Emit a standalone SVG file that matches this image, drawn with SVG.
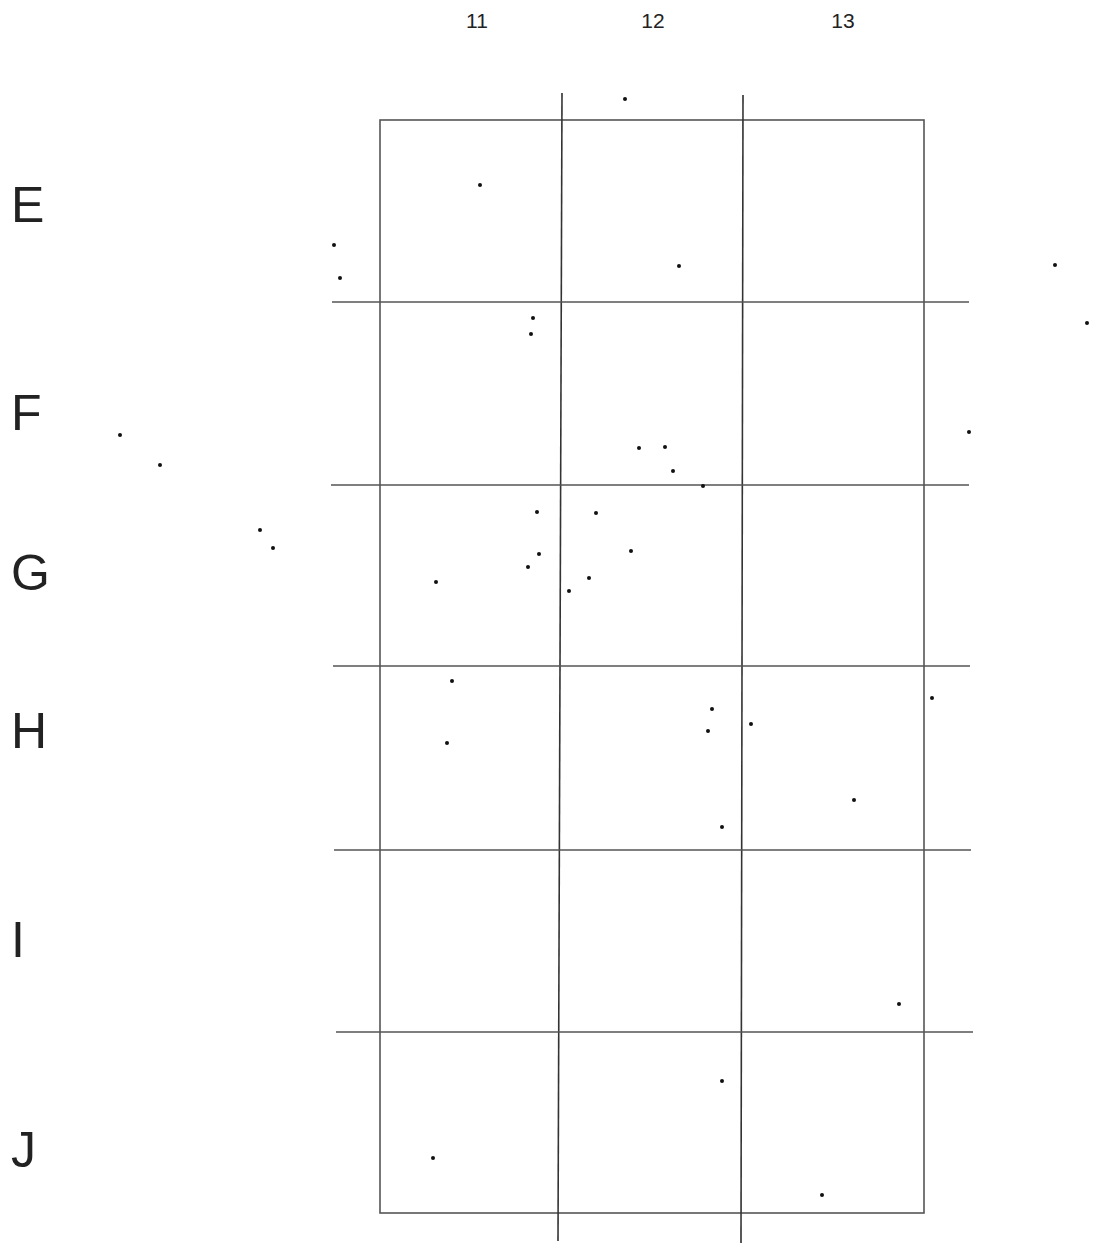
<svg xmlns="http://www.w3.org/2000/svg" width="1110" height="1249" viewBox="0 0 1110 1249">
<style>
.ln{stroke:#555;stroke-width:1.6;fill:none}
.vl{stroke:#333;stroke-width:1.6;fill:none}
.lbl{font-family:"Liberation Sans",Arial,sans-serif;fill:#222}
.big{font-size:50px}
.sm{font-size:21px}
.d{fill:#111}
</style>
<rect width="1110" height="1249" fill="#fff"/>
<g id="grid">
<rect class="ln" x="380" y="120" width="544" height="1093"/>
<line class="vl" x1="562" y1="93" x2="558" y2="1241"/>
<line class="vl" x1="743" y1="95" x2="741" y2="1243"/>
<line class="ln" x1="332" y1="302" x2="969" y2="302"/>
<line class="ln" x1="331" y1="485" x2="969" y2="485"/>
<line class="ln" x1="333" y1="666" x2="970" y2="666"/>
<line class="ln" x1="334" y1="850" x2="971" y2="850"/>
<line class="ln" x1="336" y1="1032" x2="973" y2="1032"/>
</g>
<g id="labels">
<text class="lbl sm" x="477" y="28" text-anchor="middle">11</text>
<text class="lbl sm" x="653" y="28" text-anchor="middle">12</text>
<text class="lbl sm" x="843" y="28" text-anchor="middle">13</text>
<text class="lbl big" x="11" y="222">E</text>
<text class="lbl big" x="11" y="430">F</text>
<text class="lbl big" x="11" y="590">G</text>
<text class="lbl big" x="11" y="748">H</text>
<text class="lbl big" x="11" y="957">I</text>
<text class="lbl big" x="11" y="1167">J</text>
</g>
<g id="dots" class="d">
<circle cx="625" cy="99" r="2"/>
<circle cx="480" cy="185" r="2"/>
<circle cx="334" cy="245" r="2"/>
<circle cx="340" cy="278" r="2"/>
<circle cx="679" cy="266" r="2"/>
<circle cx="1055" cy="265" r="2"/>
<circle cx="1087" cy="323" r="2"/>
<circle cx="533" cy="318" r="2"/>
<circle cx="531" cy="334" r="2"/>
<circle cx="120" cy="435" r="2"/>
<circle cx="160" cy="465" r="2"/>
<circle cx="969" cy="432" r="2"/>
<circle cx="639" cy="448" r="2"/>
<circle cx="665" cy="447" r="2"/>
<circle cx="673" cy="471" r="2"/>
<circle cx="703" cy="486" r="2"/>
<circle cx="537" cy="512" r="2"/>
<circle cx="596" cy="513" r="2"/>
<circle cx="260" cy="530" r="2"/>
<circle cx="273" cy="548" r="2"/>
<circle cx="539" cy="554" r="2"/>
<circle cx="631" cy="551" r="2"/>
<circle cx="528" cy="567" r="2"/>
<circle cx="589" cy="578" r="2"/>
<circle cx="569" cy="591" r="2"/>
<circle cx="436" cy="582" r="2"/>
<circle cx="452" cy="681" r="2"/>
<circle cx="932" cy="698" r="2"/>
<circle cx="712" cy="709" r="2"/>
<circle cx="708" cy="731" r="2"/>
<circle cx="751" cy="724" r="2"/>
<circle cx="447" cy="743" r="2"/>
<circle cx="854" cy="800" r="2"/>
<circle cx="722" cy="827" r="2"/>
<circle cx="899" cy="1004" r="2"/>
<circle cx="722" cy="1081" r="2"/>
<circle cx="433" cy="1158" r="2"/>
<circle cx="822" cy="1195" r="2"/>
</g>
</svg>
